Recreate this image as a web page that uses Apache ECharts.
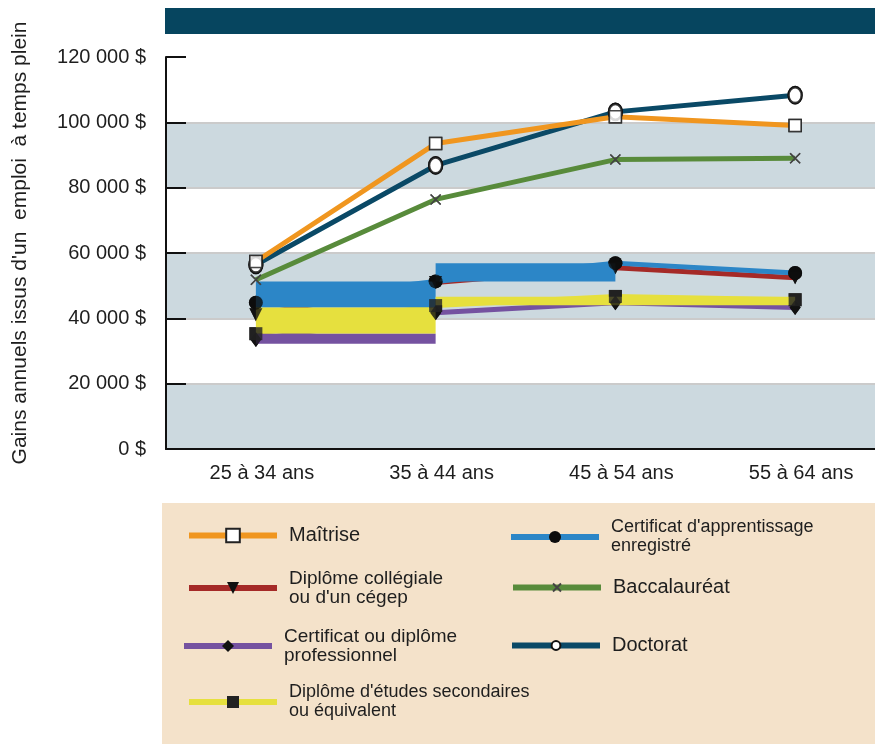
<!DOCTYPE html>
<html>
<head>
<meta charset="utf-8">
<script src="https://cdn.jsdelivr.net/npm/echarts@6/dist/echarts.min.js"></script>
<style>
  html, body { margin: 0; padding: 0; background: #fff; }
  #main { width: 875px; height: 744px; }
</style>
</head>
<body>
<div id="main"></div>
<script>
// data
var ageGroups = ["25 à 34 ans", "35 à 44 ans", "45 à 54 ans", "55 à 64 ans"];
var maitrise = [57400, 93500, 101700, 99000];
var doctorat = [56400, 86800, 103200, 108300];
var baccalaureat = [51800, 76400, 88600, 89000];
var apprentissage = [44800, 51300, 56900, 53900];
var collegial = [41100, 51000, 55500, 52400];
var professionnel = [33500, 41700, 44800, 43300];
var secondaire = [35300, 43900, 46700, 45700];
var yMin = 0, yMax = 120000, yStep = 20000;

// the thick blocks drawn between categories: [fromCat, toCat, low, high]
var apprentissageBlocks = [[0, 1, 43300, 51300], [1, 2, 51300, 56860]];
var secondaireBlocks = [[0, 1, 35300, 43300], [1, 3, 44020, 46620]];
var professionnelBlocks = [[0, 1, 32250, 35300]];

var FONT = "Liberation Sans, Arial, sans-serif";
var TXT = "#1e1e1e";

var crossPath = "path://M0,0L10,10M10,0L0,10";

var lineDefs = [
  { name: "Diplôme collégiale ou d'un cégep", data: collegial, color: "#a52a27", z: 1,
    symbol: "triangle", rotate: 180, size: 13, item: { color: "#111" } },
  { name: "Certificat ou diplôme professionnel", data: professionnel, color: "#7552a0", z: 1,
    symbol: "diamond", size: [11, 15], item: { color: "#111" } },
  { name: "Diplôme d'études secondaires ou équivalent", data: secondaire, color: "#e6e03e", z: 1,
    symbol: "rect", size: 13, item: { color: "#222" } },
  { name: "Certificat d'apprentissage enregistré", data: apprentissage, color: "#2c86c7", z: 1,
    symbol: "circle", size: 14, item: { color: "#0c0c0c" } },
  { name: "Baccalauréat", data: baccalaureat, color: "#588b3b", z: 3,
    symbol: crossPath, size: 10, item: { color: "transparent", borderColor: "#444", borderWidth: 1.5 } },
  { name: "Doctorat", data: doctorat, color: "#0a4966", z: 3,
    symbol: "circle", size: [13, 16], item: { color: "#fff", borderColor: "#111", borderWidth: 2.5 } },
  { name: "Maîtrise", data: maitrise, color: "#f0961f", z: 3,
    symbol: "rect", size: 12, item: { color: "#fff", borderColor: "#222", borderWidth: 1.5 } }
];

var series = [];
lineDefs.forEach(function (d) {
  series.push({
    name: d.name,
    type: "line",
    data: d.data,
    z: d.z,
    symbol: d.symbol,
    symbolSize: d.size,
    symbolRotate: d.rotate || 0,
    lineStyle: { color: d.color, width: 5 },
    itemStyle: Object.assign({}, d.item),
    color: d.color,
    silent: true
  });
});

function blockSeries(blocks, color) {
  return {
    type: "custom",
    z: 2,
    silent: true,
    data: blocks,
    encode: { x: [0, 1], y: [2, 3] },
    renderItem: function (params, api) {
      var a = api.coord([api.value(0), api.value(3)]);
      var b = api.coord([api.value(1), api.value(2)]);
      return {
        type: "rect",
        shape: { x: a[0], y: a[1], width: b[0] - a[0], height: b[1] - a[1] },
        style: { fill: color }
      };
    }
  };
}
series.push(blockSeries(apprentissageBlocks, "#2c86c7"));
series.push(blockSeries(secondaireBlocks, "#e6e03e"));
series.push(blockSeries(professionnelBlocks, "#7552a0"));

// markers again on top of the blocks
lineDefs.forEach(function (d) {
  series.push({
    type: "scatter",
    data: d.data,
    z: 4,
    silent: true,
    symbol: d.symbol,
    symbolSize: d.size,
    symbolRotate: d.rotate || 0,
    itemStyle: Object.assign({}, d.item)
  });
});

// legend placement (one legend per entry)
var legendLayout = [
  { name: "Maîtrise", label: "Maîtrise", left: 186, cy: 535, ih: 17, fs: 20 },
  { name: "Diplôme collégiale ou d'un cégep", label: "Diplôme collégiale\nou d'un cégep", left: 186, cy: 588, ih: 15, fs: 19, two: true },
  { name: "Certificat ou diplôme professionnel", label: "Certificat ou diplôme\nprofessionnel", left: 181, cy: 646, ih: 15, fs: 19, two: true },
  { name: "Diplôme d'études secondaires ou équivalent", label: "Diplôme d'études secondaires\nou équivalent", left: 186, cy: 702, ih: 15, fs: 18, two: true },
  { name: "Certificat d'apprentissage enregistré", label: "Certificat d'apprentissage\nenregistré", left: 508, cy: 537, ih: 15, fs: 18, two: true },
  { name: "Baccalauréat", label: "Baccalauréat", left: 510, cy: 587, ih: 10, fs: 20 },
  { name: "Doctorat", label: "Doctorat", left: 509, cy: 645, ih: 11, fs: 20 }
];

var legends = legendLayout.map(function (l) {
  var lh = 19;
  var top = l.two ? l.cy - (lh * 3) / 2 : l.cy - Math.max(lh, l.ih) / 2;
  return {
    data: [l.name],
    left: l.left,
    top: top,
    padding: 0,
    itemWidth: 88,
    itemHeight: l.ih,
    selectedMode: false,
    z: 10,
    formatter: function () { return l.label; },
    lineStyle: { width: 6 },
    textStyle: {
      fontFamily: FONT,
      fontSize: l.fs,
      color: TXT,
      lineHeight: lh,
      padding: l.two ? [lh, 0, 0, 7] : [0, 0, 0, 7]
    }
  };
});

function money(v) {
  return String(v).replace(/\B(?=(\d{3})+(?!\d))/g, " ") + " $";
}

var option = {
  animation: false,
  backgroundColor: "#fff",
  // the plot runs a little past the right edge of the picture
  grid: { left: 166, top: 57, width: 719, height: 392, outerBoundsMode: "none" },
  xAxis: {
    type: "category",
    data: ageGroups,
    boundaryGap: true,
    axisLine: { lineStyle: { color: "#111", width: 2 } },
    axisTick: { inside: true, length: 10, lineStyle: { color: "#111", width: 2 } },
    axisLabel: { fontFamily: FONT, fontSize: 20, color: TXT, margin: 14, padding: [0, 0, 0, 12] },
    splitLine: { show: false }
  },
  yAxis: {
    type: "value",
    min: yMin,
    max: yMax,
    interval: yStep,
    axisLine: { show: true, lineStyle: { color: "#111", width: 2 } },
    axisTick: { show: true, inside: true, length: 20, lineStyle: { color: "#111", width: 2 } },
    axisLabel: { fontFamily: FONT, fontSize: 20, color: TXT, margin: 20, formatter: money },
    splitLine: { show: true, showMaxLine: false, lineStyle: { color: "#cbcbcb", width: 2 } },
    splitArea: { show: true, areaStyle: { color: ["#ccd9df", "#ffffff"] } }
  },
  legend: legends,
  graphic: [
    { type: "rect", left: 165, top: 8, z: -10, shape: { width: 710, height: 26 }, style: { fill: "#06455f" } },
    { type: "rect", left: 162, top: 503, z: -10, shape: { width: 713, height: 241 }, style: { fill: "#f4e2ca" } },
    {
      type: "text",
      x: 20, y: 243,
      rotation: Math.PI / 2,
      style: {
        text: "Gains annuels issus d'un  emploi  à temps plein",
        fontFamily: FONT, fontSize: 21, fill: TXT,
        align: "center", verticalAlign: "middle"
      }
    }
  ],
  series: series
};

var myChart = echarts.init(document.getElementById("main"));
myChart.setOption(option);
</script>
</body>
</html>
